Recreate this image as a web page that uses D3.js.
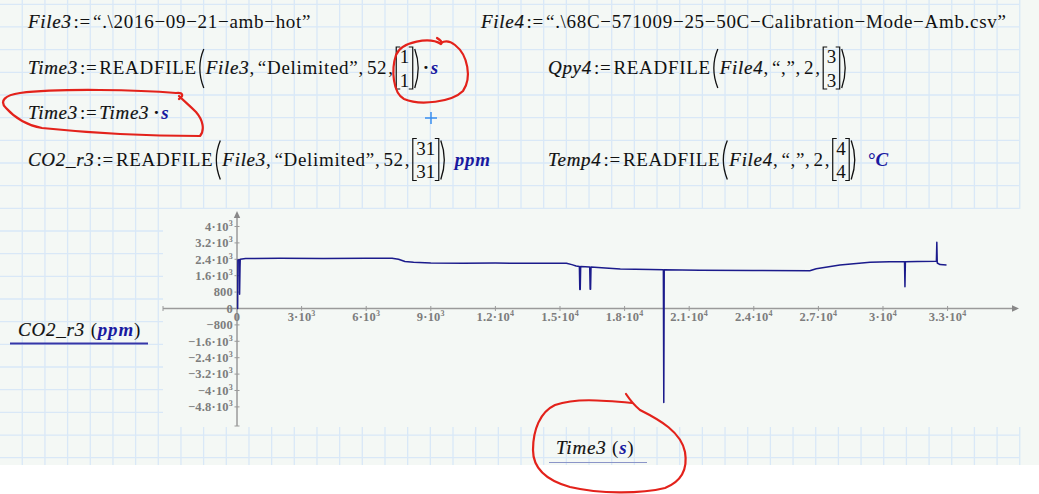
<!DOCTYPE html>
<html><head><meta charset="utf-8">
<script src="https://cdn.jsdelivr.net/npm/d3@7/dist/d3.min.js"></script>
<style>
html,body{margin:0;padding:0;background:#fff;}
svg{display:block;}
</style></head><body>
<svg id="c" width="1039" height="494"></svg>
<script>
// ---------- data ----------
const time = [0,30,40,110,120,140,150,400,2000,4000,6000,7200,7500,7800,8200,9000,10500,12000,13500,15300,15550,15750,15900,15920,15940,15960,16380,16400,16420,16440,17100,17800,19200,19800,19820,19840,21500,24000,26600,26900,28000,29400,30300,31000,31020,31040,31600,32480,32500,32520,32650,32950];
const co2 = [0,0,2370,2380,700,2000,2400,2440,2450,2440,2445,2450,2400,2290,2250,2220,2210,2215,2210,2205,2140,2070,2050,930,930,2045,2025,940,940,2020,1970,1925,1900,1890,-4580,1890,1860,1850,1840,1940,2120,2260,2280,2280,1060,2275,2290,2300,3230,2220,2140,2125];
const xTicks = [0,3000,6000,9000,12000,15000,18000,21000,24000,27000,30000,33000];
const xTickLabels = ["0","3·10^3","6·10^3","9·10^3","1.2·10^4","1.5·10^4","1.8·10^4","2.1·10^4","2.4·10^4","2.7·10^4","3·10^4","3.3·10^4"];
const yTicks = [4000,3200,2400,1600,800,0,-800,-1600,-2400,-3200,-4000,-4800];
const yTickLabels = ["4·10^3","3.2·10^3","2.4·10^3","1.6·10^3","800","0","−800","−1.6·10^3","−2.4·10^3","−3.2·10^3","−4·10^3","−4.8·10^3"];

const svg = d3.select("#c");
const BG = "#f4f8f5", GRID = "#d9e8f7";
const FONT = "'Liberation Serif', 'Times New Roman', serif";

// ---------- worksheet background ----------
svg.append("rect").attr("x",0).attr("y",0).attr("width",1039).attr("height",494).attr("fill","#ffffff");
svg.append("rect").attr("x",0).attr("y",0).attr("width",1039).attr("height",465).attr("fill",BG);
const grid = svg.append("g").attr("stroke",GRID).attr("stroke-width",1.3);
for (let k=1;k<=45;k++){ const gx=22.67*k-0.4; grid.append("line").attr("x1",gx).attr("x2",gx).attr("y1",0).attr("y2",465); }
for (let k=0;k<=20;k++){ const gy=4.3+22.67*k; grid.append("line").attr("x1",0).attr("x2",1019).attr("y1",gy).attr("y2",gy); }
svg.append("rect").attr("x",163).attr("y",209).attr("width",876).attr("height",218).attr("fill",BG);

// ---------- equations ----------
const eq = svg.append("g").attr("font-family",FONT).attr("font-size",19).attr("letter-spacing",0.7).attr("fill","#111");
function layout(x0, b, tokens){
  let x = x0; const c = b - 6;
  tokens.forEach(tk=>{
    if (tk.k==="gap"){ x += tk.w; return; }
    if (tk.k==="lp"){ eq.append("path").attr("d",`M${x+7},${c-19} Q${x-1},${c} ${x+7},${c+20}`).attr("fill","none").attr("stroke","#111").attr("stroke-width",1.3); x+=9; return; }
    if (tk.k==="rp"){ eq.append("path").attr("d",`M${x+1},${c-19} Q${x+8},${c} ${x+1},${c+20}`).attr("fill","none").attr("stroke","#111").attr("stroke-width",1.3); x+=7; return; }
    if (tk.k==="mat"){
      const t1 = eq.append("text").attr("y",b-11).attr("letter-spacing",0).text(tk.v[0]);
      const t2 = eq.append("text").attr("y",b+12.5).attr("letter-spacing",0).text(tk.v[1]);
      const w = Math.max(t1.node().getComputedTextLength(), t2.node().getComputedTextLength());
      const inner = w + 4;
      t1.attr("x",x+3+inner/2).attr("text-anchor","middle");
      t2.attr("x",x+3+inner/2).attr("text-anchor","middle");
      eq.append("path").attr("d",`M${x+5.5},${c-21} L${x+1.5},${c-21} L${x+1.5},${c+21} L${x+5.5},${c+21}`).attr("fill","none").attr("stroke","#111").attr("stroke-width",1.2);
      const r = x+3+inner+1.5;
      eq.append("path").attr("d",`M${r-4},${c-21} L${r},${c-21} L${r},${c+21} L${r-4},${c+21}`).attr("fill","none").attr("stroke","#111").attr("stroke-width",1.2);
      x = r + 1; return;
    }
    const t = eq.append("text").attr("x",x).attr("y",b).text(tk.t);
    if (tk.k==="v") t.attr("font-style","italic").attr("stroke","#111").attr("stroke-width",0.2);
    if (tk.k==="u") t.attr("font-style","italic").attr("font-weight","bold").attr("fill","#1a1aa0");
    if (tk.k==="d") t.attr("font-weight","bold");
    x += t.node().getComputedTextLength() + (tk.after||0);
  });
  return x;
}
const V=(t,a)=>({k:"v",t,after:a===undefined?2:a}), N=(t,a)=>({k:"n",t,after:a||0}), U=t=>({k:"u",t}), G=w=>({k:"gap",w}), D=()=>({k:"d",t:"·",after:0});
const LP={k:"lp"}, RP={k:"rp"}, M=v=>({k:"mat",v});
const ASSIGN = N(":=",2);

layout(28, 27.5, [V("File3"), ASSIGN, N("“.\\2016−09−21−amb−hot”")]);
layout(481, 27.5, [V("File4"), ASSIGN, N("“.\\68C−571009−25−50C−Calibration−Mode−Amb.csv”")]);
layout(28, 74, [V("Time3"), ASSIGN, N("READFILE"), LP, V("File3",0), N(",",3), N("“Delimited”"), N(",",3), N("52",1), N(",",1), M(["1","1"]), RP, G(2), D(), G(1), U("s")]);
layout(548, 74, [V("Qpy4"), ASSIGN, N("READFILE"), LP, V("File4",0), N(",",3), N("“,”"), N(",",3), N("2",1), N(",",1), M(["3","3"]), RP]);
layout(28, 119, [V("Time3"), ASSIGN, V("Time3"), G(2), D(), G(1), U("s")]);
layout(28, 165.5, [V("CO2_r3"), ASSIGN, N("READFILE"), LP, V("File3",0), N(",",3), N("“Delimited”"), N(",",3), N("52",1), N(",",1), M(["31","31"]), RP, G(8), U("ppm")]);
layout(548, 165.5, [V("Temp4"), ASSIGN, N("READFILE"), LP, V("File4",0), N(",",3), N("“,”"), N(",",3), N("2",1), N(",",1), M(["4","4"]), RP, G(10), U("°C")]);

// blue crosshair
svg.append("path").attr("d","M425,118 L437,118 M431,112 L431,124").attr("stroke","#3a8ef0").attr("stroke-width",1.5);

// ---------- plot ----------
const x = d3.scaleLinear().domain([-3437, 36270]).range([163, 1018]);
const y = d3.scaleLinear().domain([-5732, 4707]).range([426, 212]);
const AX = "#9a9a9a";
const ax = svg.append("g");
ax.append("line").attr("x1",x.range()[0]).attr("x2",x.range()[1]-4).attr("y1",y(0)).attr("y2",y(0)).attr("stroke",AX).attr("stroke-width",1.5);
ax.append("line").attr("x1",x(0)).attr("x2",x(0)).attr("y1",y.range()[1]+4).attr("y2",y.range()[0]).attr("stroke",AX).attr("stroke-width",1.5);
ax.append("path").attr("d",`M${x.range()[1]+1},${y(0)} l-7,-3.2 l0,6.4 z`).attr("fill","#888");
ax.append("path").attr("d",`M${x(0)},${y.range()[1]-1} l-3.2,7 l6.4,0 z`).attr("fill","#888");
ax.append("line").attr("x1",x.range()[0]).attr("x2",x.range()[0]).attr("y1",y(0)-2.5).attr("y2",y(0)+2.5).attr("stroke",AX);
ax.append("line").attr("x1",x(0)-2.5).attr("x2",x(0)+2.5).attr("y1",y.range()[0]).attr("y2",y.range()[0]).attr("stroke",AX);

function tickLabel(g, s){
  const parts = s.split("^");
  g.append("tspan").text(parts[0]);
  if (parts[1]) g.append("tspan").attr("font-size",8).attr("dy",-5).text(parts[1]);
}
const tl = svg.append("g").attr("font-family",FONT).attr("font-size",12.5).attr("font-weight","bold").attr("letter-spacing",0.2).attr("fill","#7d7d7d");
xTicks.forEach((v,i)=>{
  if (v!==0) ax.append("line").attr("x1",x(v)).attr("x2",x(v)).attr("y1",y(0)-2.5).attr("y2",y(0)+2.5).attr("stroke",AX);
  const t = tl.append("text").attr("x",x(v)).attr("y",y(0)+13).attr("text-anchor","middle");
  tickLabel(t, xTickLabels[i]);
});
yTicks.forEach((v,i)=>{
  if (v!==0) ax.append("line").attr("x1",x(0)-2.5).attr("x2",x(0)+2.5).attr("y1",y(v)).attr("y2",y(v)).attr("stroke",AX);
  const t = tl.append("text").attr("x",x(0)-4).attr("y",y(v)+4.3).attr("text-anchor","end");
  tickLabel(t, yTickLabels[i]);
});

const line = d3.line().x((d,i)=>x(time[i])).y((d,i)=>y(co2[i]));
svg.append("path").datum(co2).attr("d",line).attr("fill","none").attr("stroke","#1b1b8c").attr("stroke-width",1.5).attr("stroke-linejoin","round");

// axis titles
const at = svg.append("g").attr("font-family",FONT).attr("font-size",19).attr("letter-spacing",0.8).attr("fill","#111");
const yt = at.append("text").attr("x",18).attr("y",335.5);
yt.append("tspan").attr("font-style","italic").attr("stroke","#111").attr("stroke-width",0.2).text("CO2_r3");
yt.append("tspan").text("  (");
yt.append("tspan").attr("font-style","italic").attr("font-weight","bold").attr("fill","#1a1aa0").text("ppm");
yt.append("tspan").text(")");
svg.append("line").attr("x1",10).attr("x2",148).attr("y1",343.5).attr("y2",343.5).attr("stroke","#3636a8").attr("stroke-width",2);
const xt = at.append("text").attr("x",556).attr("y",453.5);
xt.append("tspan").attr("font-style","italic").attr("stroke","#111").attr("stroke-width",0.2).text("Time3");
xt.append("tspan").text("   (");
xt.append("tspan").attr("font-style","italic").attr("font-weight","bold").attr("fill","#1a1aa0").text("s");
xt.append("tspan").text(")");
svg.append("line").attr("x1",549).attr("x2",647).attr("y1",462.5).attr("y2",462.5).attr("stroke","#8b95c8").attr("stroke-width",1.2);

// ---------- red hand annotations ----------
const red = svg.append("g").attr("fill","none").attr("stroke","#e3221b").attr("stroke-width",2.2).attr("stroke-linecap","round").attr("stroke-linejoin","round");
red.append("path").attr("d","M437,38 C440,40 443,42 441,44 C430,37 402,41 396,55 C391,70 393,93 404,99 C420,106 452,102 463,91 C472,78 468,55 455,45 C450,41 446,40 441,43");
red.append("path").attr("d","M179,99 C184,96 183,92 176,93 C140,90 60,88 20,93 C5,95 -1,101 6,108 C15,118 25,125 42,128 C90,133 150,136 200,136 C205,130 203,120 196,112 C189,105 184,101 179,96");
red.append("path").attr("d","M626,394 C630,400 634,405 640,410 C660,420 681,432 685,452 C688,470 680,482 665,488 C640,494 600,494 570,487 C545,480 533,468 533,450 C533,430 540,412 555,405 C575,398 600,400 632,403");
</script>
</body></html>
